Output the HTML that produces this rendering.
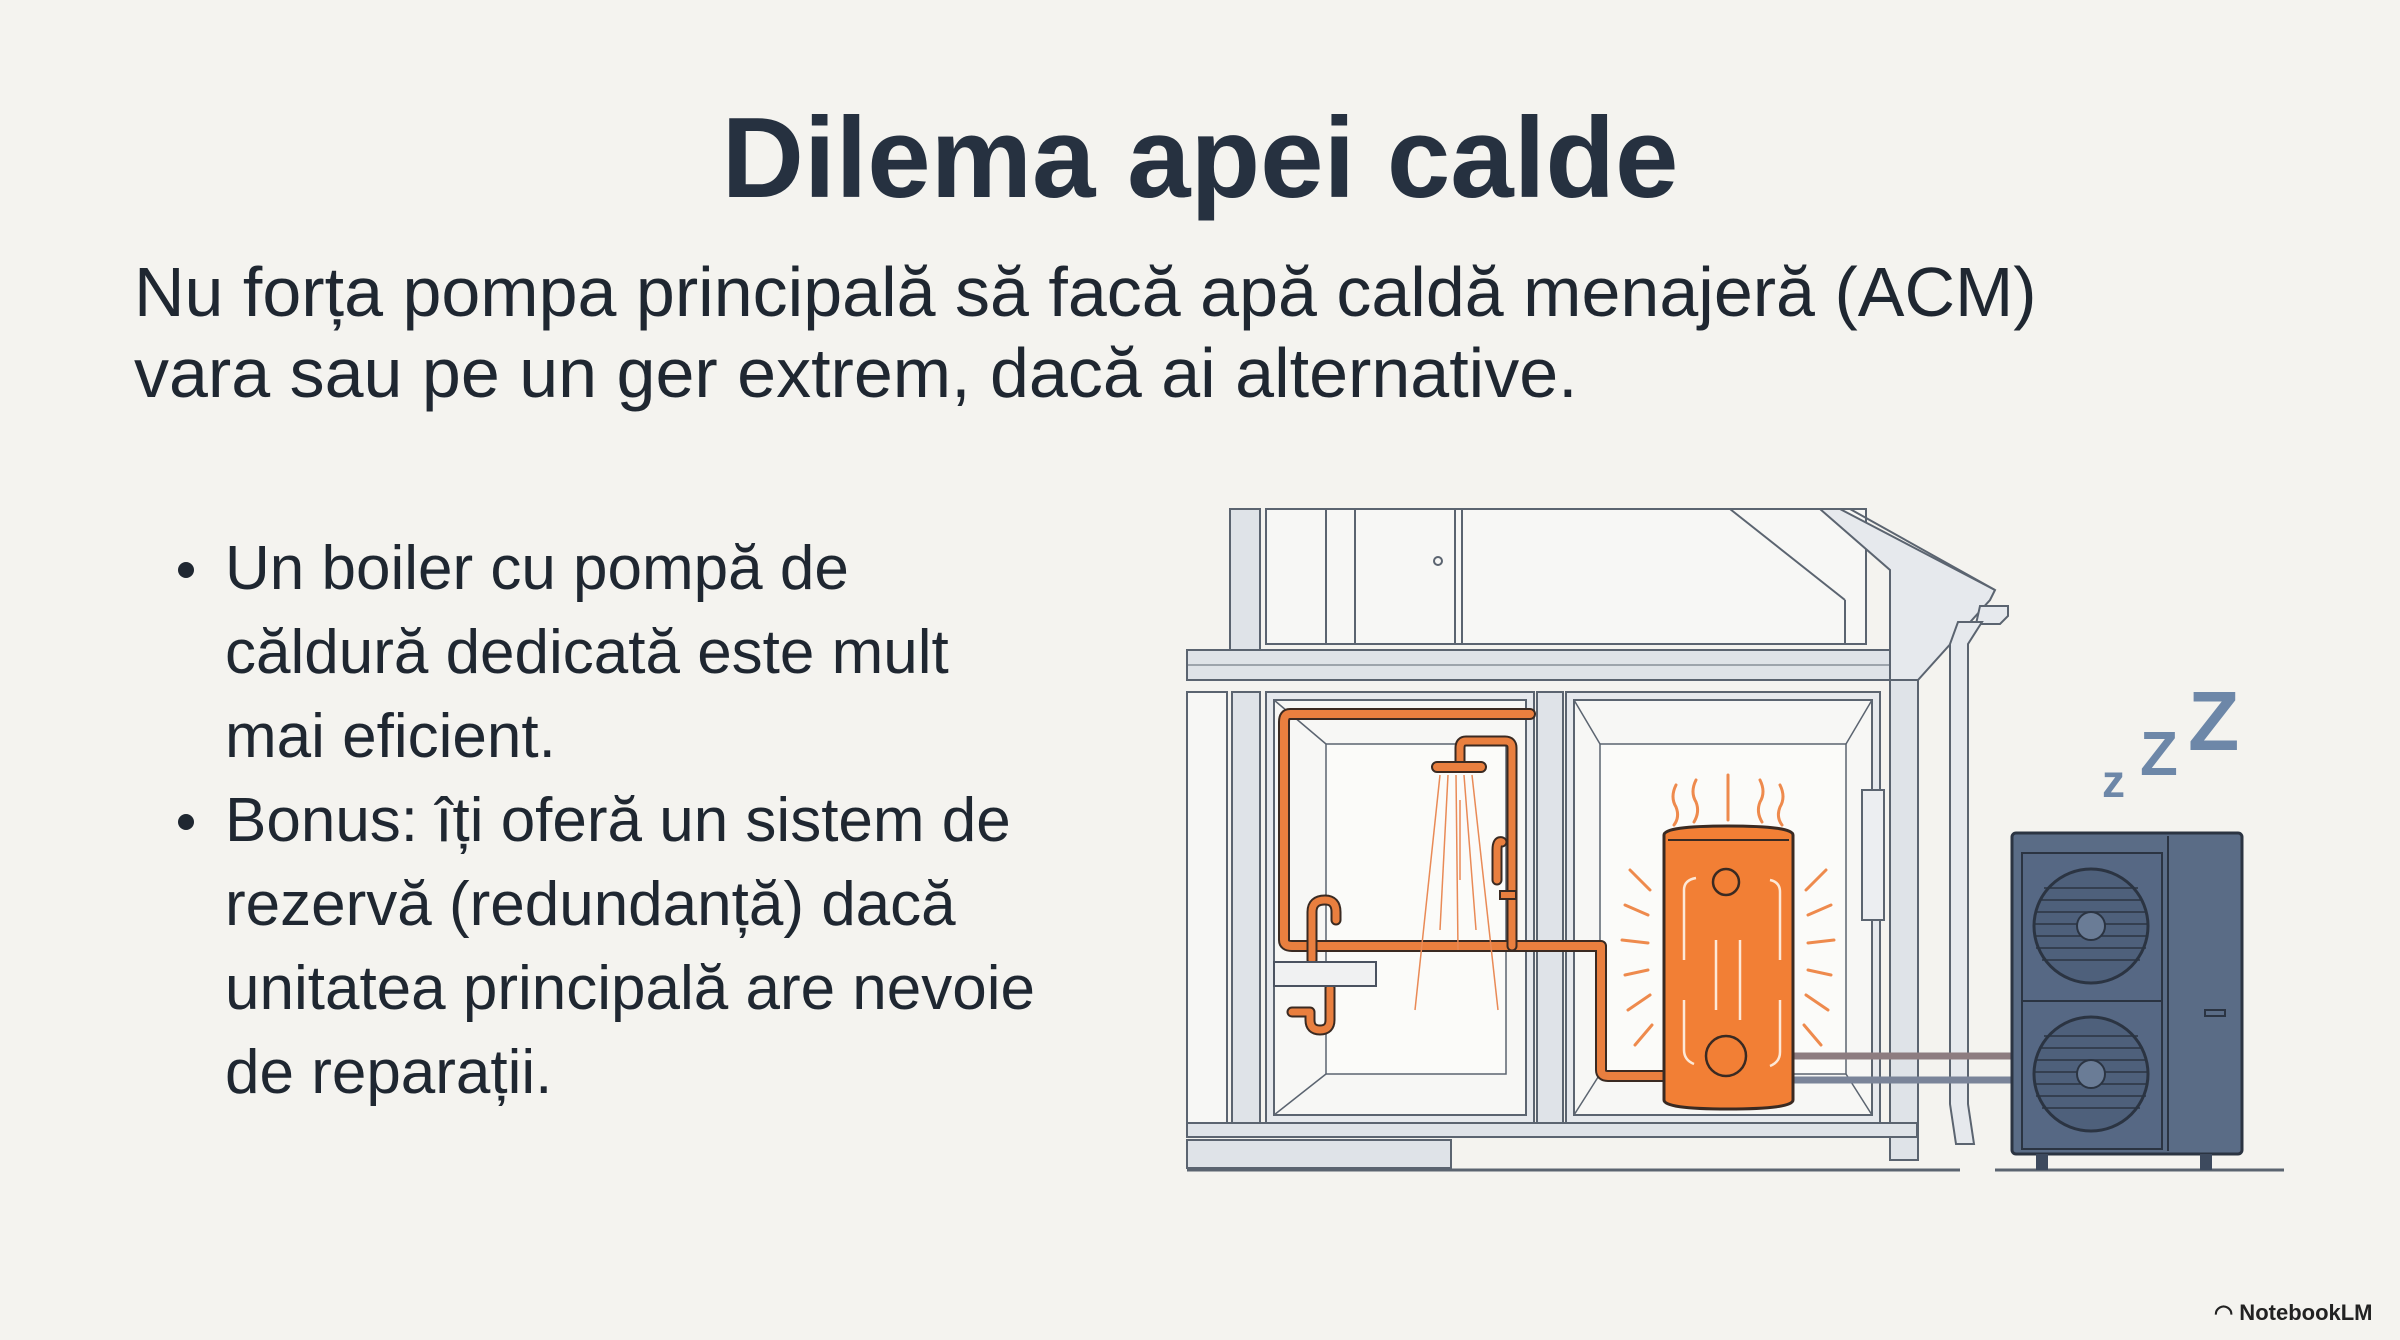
<!DOCTYPE html>
<html><head><meta charset="utf-8"><style>
html,body{margin:0;padding:0;}
body{width:2400px;height:1340px;background:#f4f3ef;position:relative;overflow:hidden;font-family:"Liberation Sans",sans-serif;color:#1f2731;}
.t{position:absolute;white-space:nowrap;}
#title{left:0;width:2400px;text-align:center;top:104px;font-size:114px;line-height:110px;font-weight:bold;color:#263140;}
.sub{left:134px;font-size:70px;line-height:81px;}
.b{left:225px;font-size:62px;line-height:84px;}
.dot{position:absolute;left:178px;width:16px;height:16px;border-radius:50%;background:#1f2731;}
</style></head><body>
<div class="t" id="title">Dilema apei calde</div>
<div class="t sub" style="top:252px">Nu forța pompa principală să facă apă caldă menajeră (ACM)</div>
<div class="t sub" style="top:333px">vara sau pe un ger extrem, dacă ai alternative.</div>
<div class="dot" style="top:562px"></div>
<div class="dot" style="top:814px"></div>
<div class="t b" style="top:527px">Un boiler cu pompă de</div>
<div class="t b" style="top:611px">căldură dedicată este mult</div>
<div class="t b" style="top:695px">mai eficient.</div>
<div class="t b" style="top:779px">Bonus: îți oferă un sistem de</div>
<div class="t b" style="top:863px">rezervă (redundanță) dacă</div>
<div class="t b" style="top:947px">unitatea principală are nevoie</div>
<div class="t b" style="top:1031px">de reparații.</div>

<svg width="2400" height="1340" style="position:absolute;left:0;top:0" xmlns="http://www.w3.org/2000/svg">
<g stroke="#5b6470" stroke-width="2" fill="#f7f7f5">
 <rect x="1230" y="509" width="30" height="145" fill="#dfe3e8"/>
 <rect x="1266" y="509" width="600" height="135" />
 <line x1="1326" y1="509" x2="1326" y2="644"/><line x1="1355" y1="509" x2="1355" y2="644"/>
 <line x1="1455" y1="509" x2="1455" y2="644"/><line x1="1462" y1="509" x2="1462" y2="644"/>
 <circle cx="1438" cy="561" r="4" fill="none"/>
 <line x1="1730" y1="509" x2="1845" y2="600"/><line x1="1845" y1="600" x2="1845" y2="644"/>
 <rect x="1187" y="650" width="716" height="30" fill="#dfe3e8"/>
 <line x1="1187" y1="665" x2="1900" y2="665" stroke-width="1"/>
 <rect x="1187" y="692" width="40" height="431" fill="#f7f7f5"/>
 <rect x="1232" y="692" width="28" height="431" fill="#dfe3e8"/>
 <rect x="1266" y="692" width="268" height="431" fill="#e6e9ed"/>
 <rect x="1274" y="700" width="252" height="415" fill="#f7f7f5"/>
 <rect x="1326" y="744" width="180" height="330" fill="#fbfbf9" stroke-width="1.5"/>
 <line x1="1274" y1="700" x2="1326" y2="744" stroke-width="1.5"/><line x1="1274" y1="1115" x2="1326" y2="1074" stroke-width="1.5"/>
 <rect x="1537" y="692" width="26" height="431" fill="#dfe3e8"/>
 <rect x="1566" y="692" width="314" height="431" fill="#e6e9ed"/>
 <rect x="1574" y="700" width="298" height="415" fill="#f7f7f5"/>
 <rect x="1600" y="744" width="246" height="330" fill="#fbfbf9" stroke-width="1.5"/>
 <line x1="1574" y1="700" x2="1600" y2="744" stroke-width="1.5"/><line x1="1872" y1="700" x2="1846" y2="744" stroke-width="1.5"/>
 <line x1="1574" y1="1115" x2="1600" y2="1074" stroke-width="1.5"/><line x1="1872" y1="1115" x2="1846" y2="1074" stroke-width="1.5"/>
 <rect x="1890" y="560" width="28" height="600" fill="#dfe3e8"/>
 <rect x="1862" y="790" width="22" height="130" fill="#eceef1"/>
 <polygon points="1820,509 1840,509 1995,590 1990,600 1918,680 1890,680 1890,570" fill="#e6e9ed"/>
 <line x1="1850" y1="509" x2="1995" y2="590"/>
 <path d="M1980,606 h28 v10 l-8,8 h-24 z" fill="#e6e9ed"/>
 <path d="M1958,622 h24 l-14,22 v460 l6,40 h-18 l-6,-40 v-460 z" fill="#e6e9ed"/>
 <rect x="1187" y="1123" width="730" height="14" fill="#dfe3e8"/>
 <rect x="1187" y="1140" width="264" height="28" fill="#dfe3e8"/>
 <line x1="1187" y1="1170" x2="1960" y2="1170" stroke-width="3"/>
 <line x1="1995" y1="1170" x2="2284" y2="1170" stroke-width="3"/>
</g>
<g stroke-width="7" fill="none">
 <line x1="1793" y1="1056" x2="2012" y2="1056" stroke="#8d7c80"/>
 <line x1="1793" y1="1080" x2="2012" y2="1080" stroke="#7a8499"/>
</g>
<g fill="none" stroke-linecap="round" stroke-linejoin="round">
 <path d="M1530,714 H1290 Q1284,714 1284,722 V940 Q1284,946 1292,946 H1601 V1070 Q1601,1076 1608,1076 H1664" stroke="#3a2a22" stroke-width="12"/>
 <path d="M1530,714 H1290 Q1284,714 1284,722 V940 Q1284,946 1292,946 H1601 V1070 Q1601,1076 1608,1076 H1664" stroke="#e97f3f" stroke-width="8"/>
 <path d="M1512,946 V748 Q1512,741 1505,741 H1466 Q1460,741 1460,748 V762" stroke="#3a2a22" stroke-width="11"/>
 <path d="M1512,946 V748 Q1512,741 1505,741 H1466 Q1460,741 1460,748 V762" stroke="#e97f3f" stroke-width="7"/>
 <path d="M1312,960 V912 Q1312,900 1325,900 Q1336,900 1336,912 V920" stroke="#3a2a22" stroke-width="11"/>
 <path d="M1312,960 V912 Q1312,900 1325,900 Q1336,900 1336,912 V920" stroke="#e97f3f" stroke-width="7"/>
 <path d="M1330,988 V1020 Q1330,1030 1320,1030 Q1310,1030 1310,1020 V1012 H1292" stroke="#3a2a22" stroke-width="11"/>
 <path d="M1330,988 V1020 Q1330,1030 1320,1030 Q1310,1030 1310,1020 V1012 H1292" stroke="#e97f3f" stroke-width="7"/>
 <path d="M1497,880 V850 Q1497,840 1502,842" stroke="#3a2a22" stroke-width="11"/>
 <path d="M1497,880 V850 Q1497,840 1502,842" stroke="#e97f3f" stroke-width="7"/>
</g>
<rect x="1432" y="762" width="54" height="10" rx="5" fill="#e97f3f" stroke="#3a2a22" stroke-width="2"/>
<rect x="1500" y="891" width="16" height="8" fill="#e97f3f" stroke="#3a2a22" stroke-width="2"/>
<rect x="1274" y="962" width="102" height="24" fill="#f0f1f2" stroke="#4a5260" stroke-width="2"/>
<g stroke="#e98a56" stroke-width="1.5">
 <line x1="1440" y1="775" x2="1415" y2="1010"/><line x1="1448" y1="775" x2="1440" y2="930"/>
 <line x1="1456" y1="775" x2="1458" y2="950"/><line x1="1464" y1="775" x2="1476" y2="930"/>
 <line x1="1472" y1="775" x2="1498" y2="1010"/><line x1="1460" y1="800" x2="1460" y2="880"/>
</g>
<g>
 <g stroke="#ee8a4d" stroke-width="3" fill="none" stroke-linecap="round">
  <path d="M1676,785 q-6,12 0,22 q4,10 -2,18"/><path d="M1696,780 q-6,12 0,22 q4,10 -2,20"/>
  <path d="M1728,775 v45"/><path d="M1760,780 q6,12 0,22 q-4,10 2,20"/><path d="M1780,785 q6,12 0,22 q-4,10 2,18"/>
  <line x1="1630" y1="870" x2="1650" y2="890"/><line x1="1625" y1="905" x2="1648" y2="915"/><line x1="1622" y1="940" x2="1648" y2="943"/>
  <line x1="1625" y1="975" x2="1648" y2="970"/><line x1="1628" y1="1010" x2="1650" y2="995"/><line x1="1635" y1="1045" x2="1652" y2="1025"/>
  <line x1="1826" y1="870" x2="1806" y2="890"/><line x1="1831" y1="905" x2="1808" y2="915"/><line x1="1834" y1="940" x2="1808" y2="943"/>
  <line x1="1831" y1="975" x2="1808" y2="970"/><line x1="1828" y1="1010" x2="1806" y2="995"/><line x1="1821" y1="1045" x2="1804" y2="1025"/>
 </g>
 <path d="M1664,835 q0,-9 64,-9 q65,0 65,9 V1100 q0,9 -65,9 q-64,0 -64,-9 Z" fill="#f27f35" stroke="#3a2a22" stroke-width="3"/>
 <line x1="1668" y1="840" x2="1789" y2="840" stroke="#3a2a22" stroke-width="2"/>
 <circle cx="1726" cy="882" r="13" fill="none" stroke="#3a2a22" stroke-width="2.5"/>
 <circle cx="1726" cy="1056" r="20" fill="none" stroke="#3a2a22" stroke-width="2.5"/>
 <g stroke="#fde8d6" stroke-width="2.5" fill="none">
  <path d="M1684,960 V890 q0,-10 12,-12"/><path d="M1770,880 q10,2 10,12 V960"/>
  <path d="M1684,1000 V1050 q0,10 10,14"/><path d="M1780,1000 V1052 q0,10 -10,14"/>
  <line x1="1716" y1="940" x2="1716" y2="1010"/><line x1="1740" y1="1020" x2="1740" y2="940"/>
 </g>
</g>
<g>
 <rect x="2012" y="833" width="230" height="321" rx="4" fill="#5a6c86" stroke="#2b3442" stroke-width="3"/>
 <line x1="2168" y1="836" x2="2168" y2="1151" stroke="#2b3442" stroke-width="2"/>
 <rect x="2022" y="853" width="140" height="148" fill="#566884" stroke="#2b3442" stroke-width="2"/>
 <rect x="2022" y="1001" width="140" height="148" fill="#566884" stroke="#2b3442" stroke-width="2"/>
 <circle cx="2091" cy="926" r="57" fill="#4e607b" stroke="#2b3442" stroke-width="3"/>
 <circle cx="2091" cy="1074" r="57" fill="#4e607b" stroke="#2b3442" stroke-width="3"/>
 <g stroke="#2b3442" stroke-width="1.5">
  <line x1="2040" y1="900" x2="2142" y2="900"/><line x1="2036" y1="912" x2="2146" y2="912"/><line x1="2034" y1="924" x2="2148" y2="924"/><line x1="2034" y1="936" x2="2148" y2="936"/><line x1="2036" y1="948" x2="2146" y2="948"/><line x1="2042" y1="960" x2="2140" y2="960"/><line x1="2044" y1="888" x2="2138" y2="888"/>
  <line x1="2040" y1="1048" x2="2142" y2="1048"/><line x1="2036" y1="1060" x2="2146" y2="1060"/><line x1="2034" y1="1072" x2="2148" y2="1072"/><line x1="2034" y1="1084" x2="2148" y2="1084"/><line x1="2036" y1="1096" x2="2146" y2="1096"/><line x1="2042" y1="1108" x2="2140" y2="1108"/><line x1="2044" y1="1036" x2="2138" y2="1036"/>
 </g>
 <circle cx="2091" cy="926" r="14" fill="#6a7c96" stroke="#2b3442" stroke-width="2"/>
 <circle cx="2091" cy="1074" r="14" fill="#6a7c96" stroke="#2b3442" stroke-width="2"/>
 <rect x="2205" y="1010" width="20" height="6" fill="none" stroke="#2b3442" stroke-width="2"/>
 <rect x="2036" y="1154" width="12" height="16" fill="#3d4a5e"/><rect x="2200" y="1154" width="12" height="16" fill="#3d4a5e"/>
</g>
<g fill="#6d87a8" font-family="Liberation Sans,sans-serif" font-weight="bold">
 <text x="2102" y="797" font-size="46">z</text>
 <text x="2140" y="775" font-size="62">Z</text>
 <text x="2188" y="750" font-size="84">Z</text>
</g>
</svg>
<div class="t" style="left:2214px;top:1300px;font-size:22px;font-weight:bold;color:#222;">◠ NotebookLM</div>
</body></html>
